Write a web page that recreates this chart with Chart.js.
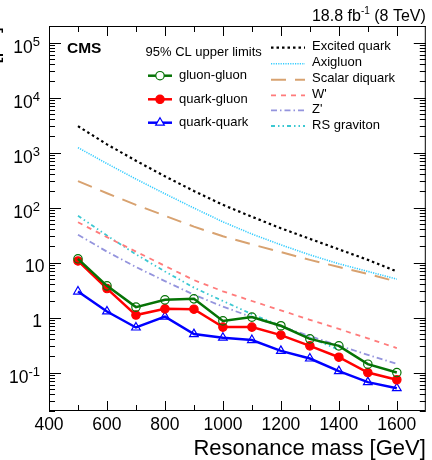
<!DOCTYPE html>
<html>
<head>
<meta charset="utf-8">
<script src="https://cdn.jsdelivr.net/npm/chart.js@4"></script>
<style>
  body { margin: 0; background: #fff; }
  canvas { display: block; }
</style>
</head>
<body>
<canvas id="limits-chart" width="432" height="460"></canvas>
<script>
// Resonance masses (GeV) where limits are computed
const masses = [500, 600, 700, 800, 900, 1000, 1100, 1200, 1300, 1400, 1500, 1600];

// 95% CL upper limits on sigma x B x A (pb)
const gluonGluon = [11.7, 3.77, 1.55, 2.10, 2.19, 0.87, 1.02, 0.71, 0.41, 0.306, 0.142, 0.100];
const quarkGluon = [10.7, 3.37, 1.11, 1.44, 1.42, 0.67, 0.67, 0.48, 0.306, 0.19, 0.100, 0.074];
const quarkQuark = [2.97, 1.29, 0.66, 1.04, 0.50, 0.43, 0.39, 0.248, 0.18, 0.106, 0.067, 0.052];

// model cross sections (pb)
const excitedQuark = [3020, 1410, 710, 370, 200, 112, 68, 42, 27, 17.4, 11.2, 6.9];
const axigluon = [1230, 630, 330, 178, 98, 55, 33, 21, 13.8, 9.5, 6.9, 5.0];
const scalarDiquark = [302, 182, 112, 71, 45, 30, 21.4, 15.5, 11.2, 8.3, 6.2, 4.5];
const wPrime = [54, 29, 15.8, 8.7, 4.8, 3.0, 2.0, 1.35, 0.91, 0.62, 0.42, 0.278];
const zPrime = [32, 15.8, 8.3, 4.6, 2.6, 1.58, 1.02, 0.69, 0.46, 0.31, 0.21, 0.144];
const rsGraviton = [71, 31, 14.1, 6.9, 3.5, 2.0, 1.15, 0.71, 0.43, 0.26];

// axis ticks
const xTickValues = [400, 600, 800, 1000, 1200, 1400, 1600];
const xMinorValues = [500, 700, 900, 1100, 1300, 1500];
const yTickExponents = [-1, 0, 1, 2, 3, 4, 5];

const FONT = '"Liberation Sans", Arial, Helvetica, sans-serif';

function pts(vals) {
  return vals.map((v, i) => ({ x: masses[i], y: v }));
}

function limitSet(label, vals, color, style, filled) {
  return {
    label: label,
    data: pts(vals),
    borderColor: color,
    backgroundColor: filled ? color : 'rgba(0,0,0,0)',
    borderWidth: 2.5,
    pointStyle: style,
    pointRadius: style === 'triangle' ? 5 : 4.2,
    pointBorderWidth: 1.2,
    pointBorderColor: color,
    pointBackgroundColor: filled ? color : 'rgba(0,0,0,0)',
    tension: 0
  };
}

function modelSet(label, vals, color, dash, width) {
  return {
    label: label,
    data: pts(vals),
    borderColor: color,
    borderWidth: width,
    borderDash: dash,
    pointRadius: 0,
    fill: false,
    tension: 0
  };
}

const limitSets = [
  limitSet('gluon-gluon', gluonGluon, '#067306', 'circle', false),
  limitSet('quark-gluon', quarkGluon, '#ff0000', 'circle', true),
  limitSet('quark-quark', quarkQuark, '#0000ff', 'triangle', false)
];

const modelSets = [
  modelSet('Excited quark', excitedQuark, '#000000', [2.5, 3], 2.2),
  modelSet('Axigluon', axigluon, '#33ccff', [1.2, 1.2], 1.6),
  modelSet('Scalar diquark', scalarDiquark, '#d8a270', [15, 9], 2),
  modelSet("W'", wPrime, '#ff7b7b', [5, 5], 1.8),
  modelSet("Z'", zPrime, '#9494dd', [6, 3, 1.5, 3], 1.8),
  modelSet('RS graviton', rsGraviton, '#3cc8d2', [4, 3, 1.5, 3, 1.5, 3], 1.8)
];

// ROOT-style frame, inner ticks, labels and legend
const frameDecor = {
  id: 'frameDecor',
  afterDraw(chart) {
    const ctx = chart.ctx;
    const a = chart.chartArea;
    const xs = chart.scales.x;
    const ys = chart.scales.y;
    ctx.save();
    ctx.strokeStyle = '#000';
    ctx.fillStyle = '#000';
    ctx.lineWidth = 1;
    ctx.setLineDash([]);
    ctx.strokeRect(a.left + 0.5, a.top + 0.5, a.right - a.left - 1, a.bottom - a.top - 1);

    ctx.beginPath();
    xTickValues.concat(xMinorValues).forEach(v => {
      const len = xTickValues.includes(v) ? 10 : 6;
      const px = Math.round(xs.getPixelForValue(v)) + 0.5;
      ctx.moveTo(px, a.bottom); ctx.lineTo(px, a.bottom - len);
      ctx.moveTo(px, a.top); ctx.lineTo(px, a.top + len);
    });
    for (let d = -2; d <= 5; d++) {
      for (let k = 1; k <= 9; k++) {
        const v = k * Math.pow(10, d);
        if (v < ys.min || v > ys.max) continue;
        const len = k === 1 ? 12 : 6;
        const py = Math.round(ys.getPixelForValue(v)) + 0.5;
        ctx.moveTo(a.left, py); ctx.lineTo(a.left + len, py);
        ctx.moveTo(a.right, py); ctx.lineTo(a.right - len, py);
      }
    }
    ctx.stroke();

    // x tick labels
    ctx.font = '17.5px ' + FONT;
    ctx.textAlign = 'center';
    ctx.textBaseline = 'alphabetic';
    xTickValues.forEach(v => {
      ctx.fillText(String(v), xs.getPixelForValue(v), 430);
    });

    // y tick labels, 10 with exponent
    yTickExponents.forEach(e => {
      const py = ys.getPixelForValue(Math.pow(10, e));
      if (e === 0 || e === 1) {
        ctx.font = '17.5px ' + FONT;
        ctx.textAlign = 'right';
        ctx.fillText(e === 0 ? '1' : '10', e === 0 ? 42 : 44.5, py + 9.5);
      } else {
        const ex = e < 0 ? '-' + Math.abs(e) : String(e);
        ctx.font = '13px ' + FONT;
        const ew = ctx.measureText(ex).width;
        ctx.textAlign = 'right';
        ctx.fillText(ex, 40, py + 3);
        ctx.font = '17.5px ' + FONT;
        ctx.fillText('10', 40 - ew, py + 10);
      }
    });

    // axis titles (y title sits mostly outside the canvas)
    ctx.font = '22px ' + FONT;
    ctx.textAlign = 'right';
    ctx.fillText('Resonance mass [GeV]', a.right, 455);
    ctx.save();
    ctx.translate(-2.5, 27);
    ctx.rotate(-Math.PI / 2);
    ctx.fillText('\u03c3 \u00d7 B \u00d7 A [pb]', 0, 0);
    ctx.restore();

    // luminosity label
    ctx.font = '16px ' + FONT;
    ctx.textAlign = 'right';
    const tail = ' (8 TeV)';
    ctx.fillText(tail, a.right, 21);
    let xr = a.right - ctx.measureText(tail).width;
    ctx.font = '10px ' + FONT;
    ctx.fillText('-1', xr, 14);
    xr -= ctx.measureText('-1').width;
    ctx.font = '16px ' + FONT;
    ctx.fillText('18.8 fb', xr, 21);

    ctx.font = 'bold 15.5px ' + FONT;
    ctx.textAlign = 'left';
    ctx.fillText('CMS', 67, 53);

    // legend: limits
    ctx.font = '13px ' + FONT;
    ctx.textBaseline = 'middle';
    ctx.fillText('95% CL upper limits', 145.5, 52);
    const limRows = [75.7, 99.3, 122.7];
    limitSets.forEach((ds, i) => {
      const y = limRows[i];
      ctx.strokeStyle = ds.borderColor;
      ctx.lineWidth = 2.5;
      ctx.beginPath();
      ctx.moveTo(148, y); ctx.lineTo(172, y);
      ctx.stroke();
      ctx.lineWidth = 1.2;
      ctx.fillStyle = ds.pointStyle === 'circle' && ds.pointBackgroundColor !== 'rgba(0,0,0,0)' ? ds.borderColor : '#fff';
      ctx.beginPath();
      if (ds.pointStyle === 'triangle') {
        const r = 5;
        ctx.moveTo(160, y - r);
        ctx.lineTo(160 + r * 0.866, y + r * 0.5);
        ctx.lineTo(160 - r * 0.866, y + r * 0.5);
        ctx.closePath();
      } else {
        ctx.arc(160, y, 4.2, 0, Math.PI * 2);
      }
      ctx.fill();
      ctx.stroke();
      ctx.fillStyle = '#000';
      ctx.fillText(ds.label, 179, y);
    });

    // legend: models
    const modRows = [46.7, 62.7, 78.7, 94.3, 109.3, 125];
    modelSets.forEach((ds, i) => {
      const y = modRows[i];
      ctx.strokeStyle = ds.borderColor;
      ctx.lineWidth = ds.borderWidth;
      ctx.setLineDash(ds.borderDash);
      ctx.beginPath();
      ctx.moveTo(271, y + 1); ctx.lineTo(305, y + 1);
      ctx.stroke();
      ctx.setLineDash([]);
      ctx.fillStyle = '#000';
      ctx.fillText(ds.label, 312, y);
    });
    ctx.restore();
  }
};

const ctx = document.getElementById('limits-chart').getContext('2d');
const limitsChart = new Chart(ctx, {
  type: 'line',
  data: { datasets: limitSets.concat(modelSets) },
  options: {
    responsive: false,
    animation: false,
    layout: { padding: { left: 49, right: 3, top: 26, bottom: 49 } },
    scales: {
      x: { type: 'linear', min: 400, max: 1700, display: false },
      y: { type: 'logarithmic', min: 0.02, max: 2e5, display: false }
    },
    plugins: {
      legend: { display: false },
      tooltip: { enabled: false }
    }
  },
  plugins: [frameDecor]
});
</script>
</body>
</html>
